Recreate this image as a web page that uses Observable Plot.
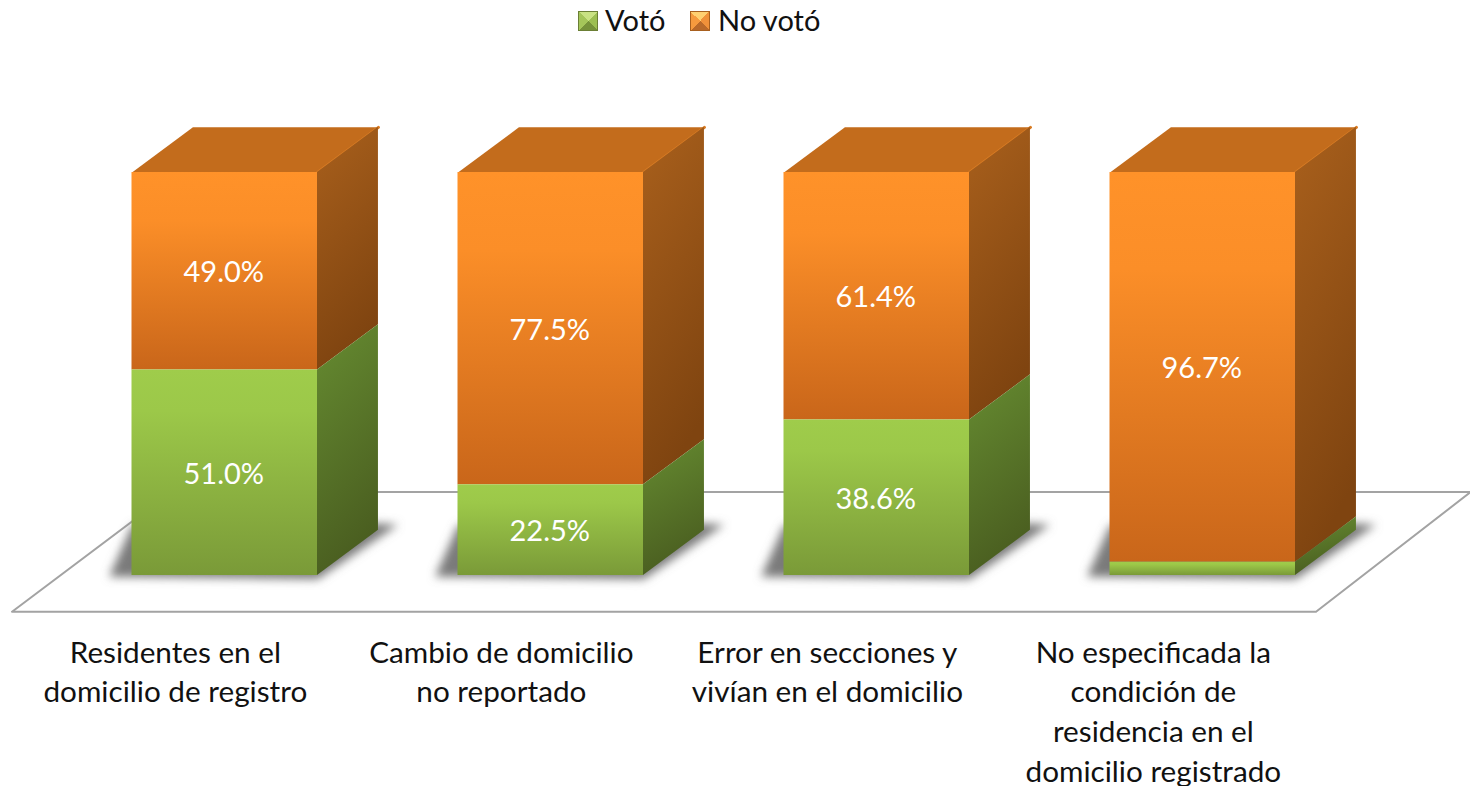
<!DOCTYPE html>
<html lang="es">
<head>
<meta charset="utf-8">
<script src="https://cdn.jsdelivr.net/npm/d3@7"></script>
<script src="https://cdn.jsdelivr.net/npm/@observablehq/plot@0.6"></script>
<style>
  html, body { margin: 0; padding: 0; background: #fff; overflow: hidden; }
  #legend { height: 42px; position: relative; font-family: Lato, sans-serif; font-size: 29px; color: #111; }
  #legend span { position: absolute; top: 2px; line-height: 36px; white-space: nowrap; }
  #legend i { position: absolute; top: 11px; width: 18px; height: 18px; display: block; border: 0.5px solid #6b7f35; }
  #legend i.o { border-color: #a8601f; }
  #chart svg { display: block; }
</style>
</head>
<body>
<div id="legend">
  <i style="left:578px;background:conic-gradient(from -45deg,#C9E283 0 25%,#9DBF52 25% 50%,#76923A 50% 75%,#A5C65A 75% 100%)"></i>
  <span style="left:605px">Votó</span>
  <i class="o" style="left:690px;background:conic-gradient(from -45deg,#FFD071 0 25%,#F0913A 25% 50%,#B9692A 50% 75%,#F69A3E 75% 100%)"></i>
  <span style="left:718px">No votó</span>
</div>
<div id="chart"></div>
<script>
const categories = [
  "Residentes en el\ndomicilio de registro",
  "Cambio de domicilio\nno reportado",
  "Error en secciones y\nvivían en el domicilio",
  "No especificada la\ncondición de\nresidencia en el\ndomicilio registrado"
];
const voto = [51.0, 22.5, 38.6, 3.3];
const noVoto = [49.0, 77.5, 61.4, 96.7];
const labelVoto = ["51.0%", "22.5%", "38.6%", null];
const labelNoVoto = ["49.0%", "77.5%", "61.4%", "96.7%"];

// box shape, in data units (x: one unit per category, y: percent)
const barW = 0.569, depthX = 0.187, depthY = 11.2;

const segments = categories.flatMap((c, i) => [
  {i, y1: 0, y2: voto[i], s: "voto", label: labelVoto[i]},
  {i, y1: voto[i], y2: 100, s: "no", label: labelNoVoto[i]}
]);
const sideRows = segments.flatMap((d, k) => [
  {k, s: d.s, x: d.i + barW, y1: d.y1, y2: d.y2},
  {k, s: d.s, x: d.i + barW + depthX, y1: d.y1 + depthY, y2: d.y2 + depthY}
]);
const topRows = categories.flatMap((c, i) => [
  [i, barW + 0, 100], [i, barW + depthX, 100 + depthY], [i, depthX, 100 + depthY], [i, 0, 100], [i, barW, 100]
].map(([k, dx, y]) => ({k, x: k + dx, y})));
const topEdge = categories.flatMap((c, i) => [
  {k: i, x: i + barW, y: 100}, {k: i, x: i + barW + depthX, y: 100 + depthY}
]);
const shadowRows = categories.flatMap((c, i) => [
  [-0.07, -0.3], [barW, -0.9], [barW + depthX + 0.06, 12.6], [barW + depthX, 12.9], [0, 12.5]
].map(([dx, y]) => ({k: i, x: i + dx, y})));
const floorRows = [[-0.368, -9], [3.632, -9], [4.106, 20.7], [0.12, 20.7], [-0.368, -9]].map(([x, y]) => ({x, y}));

function defs() {
  const d = d3.create("svg:defs");
  const grad = (id, stops, x2 = 0, y2 = 1) => {
    const g = d.append("linearGradient").attr("id", id).attr("x1", 0).attr("y1", 0).attr("x2", x2).attr("y2", y2);
    stops.forEach(([o, c]) => g.append("stop").attr("offset", o).attr("stop-color", c));
  };
  grad("frontNo", [[0, "#FF9229"], [0.25, "#FB8E28"], [1, "#C9661A"]]);
  grad("frontVoto", [[0, "#9FCC4B"], [0.2, "#9CC849"], [1, "#7A9A38"]]);
  grad("sideNo", [[0, "#A9601C"], [1, "#7F4410"]], 0.25, 1);
  grad("sideVoto", [[0, "#668C31"], [1, "#4A5E20"]], 0.25, 1);
  d.append("filter").attr("id", "blur")
    .attr("x", "-5%").attr("y", "-20%").attr("width", "110%").attr("height", "140%")
    .append("feGaussianBlur").attr("stdDeviation", 5);
  return d.node();
}
const blurred = (index, scales, values, dims, ctx, next) => {
  const g = next(index, scales, values, dims, ctx);
  g.setAttribute("filter", "url(#blur)");
  return g;
};

const plot = Plot.plot({
  width: 1470,
  height: 744,
  margin: 0,
  style: {background: "transparent", overflow: "visible"},
  x: {type: "linear", domain: [0, 3], range: [131.5, 1109.5], axis: null},
  y: {type: "linear", domain: [0, 100], range: [533, 130], axis: null},
  marks: [
    defs,
    Plot.line(floorRows, {x: "x", y: "y", fill: "#fff", stroke: "#A3A3A3", strokeWidth: 2}),
    Plot.line(shadowRows, {x: "x", y: "y", z: "k", fill: "#7a7a7a", stroke: "none", render: blurred}),
    Plot.line(topRows, {x: "x", y: "y", z: "k", fill: "#C36C1C", stroke: "none"}),
    Plot.line(topEdge, {x: "x", y: "y", z: "k", stroke: "#D97C24", strokeWidth: 3}),
    Plot.area(sideRows.filter(d => d.s === "no"), {x1: "x", y1: "y1", y2: "y2", z: "k", fill: "url(#sideNo)"}),
    Plot.area(sideRows.filter(d => d.s === "voto"), {x1: "x", y1: "y1", y2: "y2", z: "k", fill: "url(#sideVoto)"}),
    Plot.rect(segments.filter(d => d.s === "no"), {
      x1: d => d.i, x2: d => d.i + barW, y1: "y1", y2: "y2", fill: "url(#frontNo)"
    }),
    Plot.rect(segments.filter(d => d.s === "voto"), {
      x1: d => d.i, x2: d => d.i + barW, y1: "y1", y2: "y2", fill: "url(#frontVoto)"
    }),
    Plot.text(segments.filter(d => d.label), {
      x: d => d.i + barW / 2 - 0.003, y: d => (d.y1 + d.y2) / 2 - 0.4, text: "label",
      fill: "#fff", fontSize: 29, fontFamily: "Lato, sans-serif"
    }),
    Plot.text(categories, {
      x: (d, i) => i + 0.133, y: () => -14.7, text: d => d,
      lineAnchor: "top", lineHeight: 1.332, textAnchor: "middle",
      fill: "#111", fontSize: 29.7, fontFamily: "Lato, sans-serif"
    })
  ]
});
document.getElementById("chart").append(plot);
</script>
</body>
</html>
